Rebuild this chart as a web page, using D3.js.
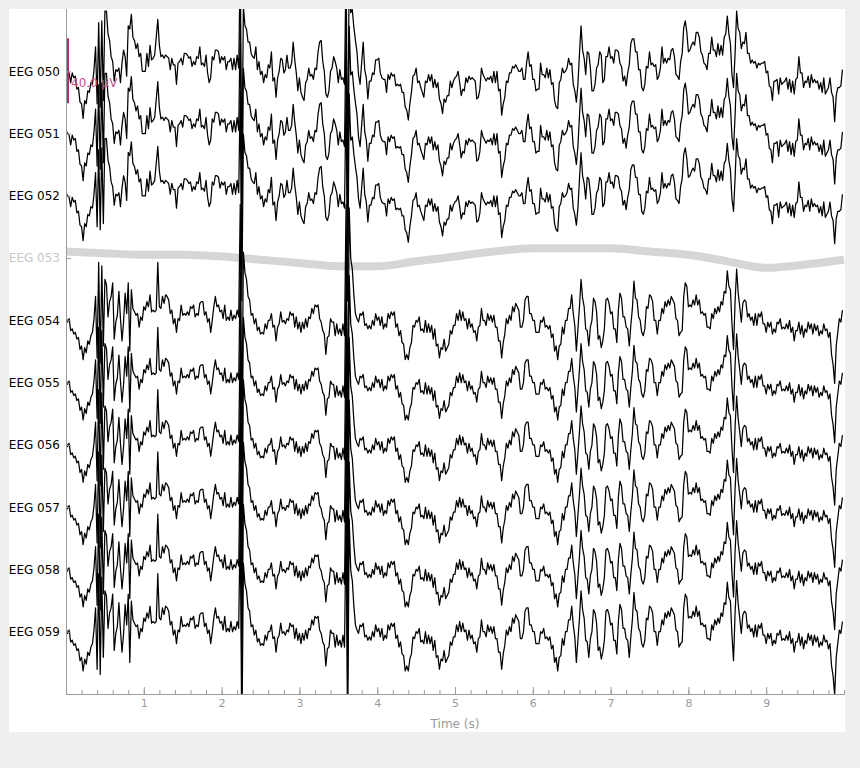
<!DOCTYPE html>
<html><head><meta charset="utf-8">
<script src="https://cdn.jsdelivr.net/npm/d3@7"></script>
<style>
body{margin:0;background:#efefef;}
svg{display:block;font-family:"DejaVu Sans",sans-serif;}
</style>
</head><body>
<svg id="chart" width="860" height="768"></svg>
<script>
// ---- data ----
const channelNames = ["EEG 050","EEG 051","EEG 052","EEG 053","EEG 054","EEG 055","EEG 056","EEG 057","EEG 058","EEG 059"];
const channelGroup = ["upper","upper","upper","bad","lower","lower","lower","lower","lower","lower"];
const channelGain  = [1.0, 1.0, 0.95, 1.0, 1.05, 1.0, 1.0, 1.0, 1.0, 1.05];
const sampleRate = 50;        // samples per second of the traced waveforms
const timeTicks = [1,2,3,4,5,6,7,8,9];
const scaleBarUv = 40;

// waveform read from EEG 050-052 (µV), 0.02 s per sample
const upperWave = [
 2,0,-1,-7,-1,  -4,-3,-11,-10,-19,  -20,-29,-18,-20,-12,  -13,-7,-8,1,15,
 -20,30,-22,31,-18,  37,37,23,19,9,  6,-6,1,0,2,  -7,5,13,9,-3,
 28,26,35,21,19,  14,17,9,11,0,  0,0,11,3,16,  7,8,10,21,32,
 16,9,10,8,10,  9,8,1,8,4,  4,-8,5,6,8,  4,11,11,10,8,
 9,3,6,4,9,  8,15,4,5,3,  10,-1,-7,-4,9,  7,13,13,12,5,
 9,7,9,1,6,  6,8,1,8,1,  10,2,68,-68,40,  28,26,18,18,11,
 9,8,15,1,6,  -2,0,-7,-2,-4,  4,2,12,-6,-4,  -16,-4,0,8,7,
 -1,1,10,2,2,  5,18,7,-1,-12,  -4,-13,-16,-18,-7,  -5,2,-3,-2,-5,
 2,1,12,18,19,  6,0,-14,-16,-12,  0,2,9,6,2,  -7,1,-5,-4,-8,
 68,-68,66,36,38,  27,19,12,-2,-8,  5,18,1,-4,-17,  -6,-6,-1,-2,7,
 7,8,-1,-4,-5,  -5,-13,-2,-5,-1,  -3,-2,-9,-8,-9,  -8,-13,-13,-22,-24,
 -30,-20,-13,-3,-2,  2,-7,-6,-10,-13,  -16,-6,-7,-2,-6,  -2,-10,-5,-10,-7,
 -17,-20,-26,-17,-19,  -15,-15,-6,-10,-6,  -4,-3,0,-7,-15,  -11,-12,-4,-7,-3,
 -5,-4,-5,-6,-17,  -16,-11,2,-2,-4,  -6,-4,-5,-3,-7,  0,-7,0,-12,-11,
 -27,-20,-16,-6,-7,  -1,-1,3,2,4,  2,0,0,2,-5,  -5,5,12,3,4,
 -5,-5,-12,-11,-11,  5,-2,-2,-4,2,  -4,1,-8,-7,-18,  -22,-23,-7,-5,2,
 -1,0,2,8,4,  5,-8,-12,-19,-8,  11,28,13,8,-2,  12,11,2,-12,-12,
 -8,2,4,12,10,  -7,-5,9,9,15,  8,9,5,13,13,  12,5,3,-6,-3,
 -9,-1,4,17,20,  20,12,12,1,1,  -10,-12,-8,3,2,  12,4,5,3,4,
 -5,-3,2,15,5,  8,5,8,7,13,  14,9,-2,-3,-5,  6,11,27,31,24,
 12,13,16,18,16,  24,24,21,12,10,  5,4,1,11,11,  21,13,13,9,17,
 10,16,10,21,23,  34,23,17,-2,-10,  11,37,26,24,14,  18,17,24,11,11,
 5,7,5,6,2,  5,4,5,5,6,  -1,0,-9,-10,-18,  -6,-6,-5,-14,-4,
 -8,-7,-6,-4,-11,  -5,-13,-6,-14,-5,  -4,9,-1,-1,-10,  -6,-7,-3,-10,-2,
 -7,-5,-7,-6,-11,  -7,-13,-4,-14,-12,  -10,-4,-13,-16,-31,  -15,-10,-10,-9,1
];

// waveform read from EEG 054-059 (µV), 0.02 s per sample
const lowerWave = [
 2,-1,1,-6,-5,  -8,-7,-11,-10,-17,  -15,-23,-16,-19,-12,  -14,-9,-7,1,14,
 -22,34,-25,32,-15,  24,21,2,11,14,  22,-11,-1,3,17,  1,-12,-1,16,4,
 22,-18,18,7,5,  3,4,-4,2,0,  8,6,11,8,15,  5,6,5,6,34,
 8,7,14,10,15,  14,12,4,6,-2,  1,-7,1,0,9,  3,4,3,5,3,
 8,7,9,2,4,  3,10,11,11,3,  5,-1,1,-7,0,  8,14,8,9,5,
 6,1,9,0,2,  0,6,0,3,1,  6,2,68,-68,40,  28,24,14,12,3,
 4,-2,1,-6,-4,  -8,-7,-8,-2,-5,  0,0,4,-4,-3,  -12,-4,-2,5,-1,
 0,-2,1,0,5,  3,4,-4,2,-5,  -1,-7,-1,-5,1,  -4,2,1,7,4,
 9,8,9,1,-1,  -6,-8,-20,-10,-9,  1,-1,-1,-9,-2,  -8,-5,-9,-2,-9,
 68,-68,66,36,30,  15,4,1,-1,4,  3,5,-3,-2,-5,  -3,-5,0,-3,4,
 0,2,-3,2,-5,  -2,-4,4,1,5,  3,5,-4,-2,-9,  -6,-13,-14,-23,-20,
 -23,-16,-13,-3,-4,  0,-1,2,-6,-5,  -7,0,-7,-2,-7,  -3,-11,-5,-15,-14,
 -22,-16,-17,-11,-18,  -16,-14,-6,-8,-3,  -3,4,0,6,0,  5,0,1,-5,1,
 -4,-2,-7,-6,-12,  -4,-3,7,0,0,  -3,4,0,3,-1,  3,-4,-4,-12,-12,
 -22,-13,-8,1,-2,  3,0,8,5,10,  8,6,-4,-4,0,  12,14,14,4,4,
 0,0,-7,-7,-7,  0,-1,2,-4,-3,  -5,-3,-10,-8,-18,  -15,-23,-15,-14,-4,
 -8,0,0,7,7,  15,4,-3,-18,-5,  8,24,13,8,-5,  -6,-15,-4,0,13,
 11,5,-11,-9,-16,  -12,-5,12,13,10,  4,5,-5,-5,-13,  6,16,13,2,2,
 -4,-5,-15,-3,7,  23,13,12,2,0,  -7,-9,-5,8,7,  15,14,11,0,0,
 -8,0,0,7,4,  11,8,12,9,14,  12,10,1,0,-9,  -7,-6,14,22,20,
 8,9,8,12,9,  15,9,12,4,5,  3,4,-4,-4,-5,  4,1,7,4,8,
 5,11,9,17,16,  29,20,18,-2,-17,  11,30,16,8,-1,  10,12,11,2,4,
 0,2,-3,4,-3,  4,2,5,-2,-2,  -7,-1,-4,-1,-8,  -5,-7,-1,-2,1,
 -5,-4,-5,-2,-5,  0,-7,-4,-12,-6,  -6,-1,-8,-3,-10,  -5,-7,-1,-5,-2,
 -8,-2,-6,-3,-9,  -6,-8,-2,-6,-5,  -10,-7,-20,-26,-37,  -15,-7,1,-1,6
];

// flat (bad) channel EEG 053, slow drift (µV)
const badTimes = [0,0.5,1,1.5,2,2.5,3,3.5,4,4.5,5,5.5,6,6.5,7,7.5,8,8.5,9,9.5,10];
const badWave  = [4,3,2,2,1,-1,-3,-5,-5,-2,1,4,6,6,6,4,2,-2,-6,-4,-1];

// ---- drawing ----
const svg = d3.select("#chart");
const panel = {x:9, y:9, w:836, h:723};
const plot = {left:66, right:844, top:9, bottom:694};

svg.append("rect").attr("x",panel.x).attr("y",panel.y).attr("width",panel.w).attr("height",panel.h).attr("fill","#ffffff");

const x = d3.scaleLinear().domain([0,10]).range([plot.left, plot.right]);
const yCh = d3.scaleLinear().domain([0,11]).range([plot.top, plot.bottom]);
const amp = d3.scaleLinear().domain([0, scaleBarUv]).range([0, 65]);

svg.append("defs").append("clipPath").attr("id","clip")
  .append("rect").attr("x",plot.left).attr("y",plot.top)
  .attr("width",plot.right-plot.left+1).attr("height",plot.bottom-plot.top);

const traces = svg.append("g").attr("clip-path","url(#clip)");

// bad channel
{
  const idx = channelGroup.indexOf("bad");
  const c = yCh(idx+1);
  const line = d3.line().x(d=>x(d[0])).y(d=>c - amp(d[1])).curve(d3.curveMonotoneX);
  traces.append("path").datum(badTimes.map((t,i)=>[t,badWave[i]]))
    .attr("d",line).attr("fill","none").attr("stroke","#d6d6d6").attr("stroke-width",8);
}

// scale bar
const sbColor = "#a93371";
const sbCenter = yCh(1);
svg.append("rect").attr("x",plot.left).attr("y",sbCenter - amp(scaleBarUv)/2 - 0.5)
  .attr("width",3).attr("height",amp(scaleBarUv)).attr("fill",sbColor);
svg.append("text").attr("x",plot.left+5).attr("y",sbCenter+16)
  .attr("font-size",12).attr("fill","#c0508c").text(scaleBarUv.toFixed(1)+" µV");

// channel traces
channelNames.forEach((name,i)=>{
  const g = channelGroup[i];
  if (g === "bad") return;
  const wave = g === "upper" ? upperWave : lowerWave;
  const c = yCh(i+1);
  const line = d3.line().x(d=>x(d[0])).y(d=>c - amp(d[1]));
  traces.append("path")
    .datum(wave.map((v,j)=>[j/sampleRate, v*channelGain[i]]))
    .attr("d",line).attr("fill","none").attr("stroke","#000")
    .attr("stroke-width",1.25).attr("stroke-linejoin","round");
});

// axes
const axisColor = "#9c9c9c";
const minorTicks = d3.range(0, 50.5, 1).map(v=>v/5);
const xMinor = svg.append("g").attr("transform",`translate(0,${plot.bottom})`)
  .call(d3.axisBottom(x).tickValues(minorTicks).tickSize(-4).tickSizeOuter(0).tickFormat(""));
const xMajor = svg.append("g").attr("transform",`translate(0,${plot.bottom})`)
  .call(d3.axisBottom(x).tickValues(timeTicks).tickSize(-7).tickSizeOuter(0).tickPadding(5).tickFormat(d3.format("d")));
[xMinor,xMajor].forEach(a=>{
  a.select(".domain").attr("stroke",axisColor);
  a.selectAll(".tick line").attr("stroke",axisColor);
  a.selectAll(".tick text").attr("fill","#9a9a9a").attr("font-size",11).attr("font-family","DejaVu Sans");
});
xMajor.select(".domain").attr("d",`M${plot.left},0.5H${plot.right+1}`);
xMinor.select(".domain").remove();

const yAxis = svg.append("g").attr("transform",`translate(${plot.left},0)`)
  .call(d3.axisLeft(yCh).tickValues(d3.range(1, channelNames.length+1)).tickSize(-5).tickSizeOuter(0).tickPadding(6)
    .tickFormat(d=>channelNames[d-1]));
yAxis.select(".domain").attr("stroke",axisColor).attr("d",`M0.5,${plot.top}V${plot.bottom}`);
yAxis.selectAll(".tick line").attr("stroke",axisColor);
yAxis.selectAll(".tick text").attr("font-size",12).attr("font-family","DejaVu Sans")
  .attr("fill",d=>channelGroup[d-1]==="bad" ? "#c8c8c8" : "#000");

svg.append("text").attr("x",(plot.left+plot.right)/2).attr("y",728)
  .attr("text-anchor","middle").attr("font-size",12).attr("fill","#9a9a9a").text("Time (s)");
</script>
</body></html>
